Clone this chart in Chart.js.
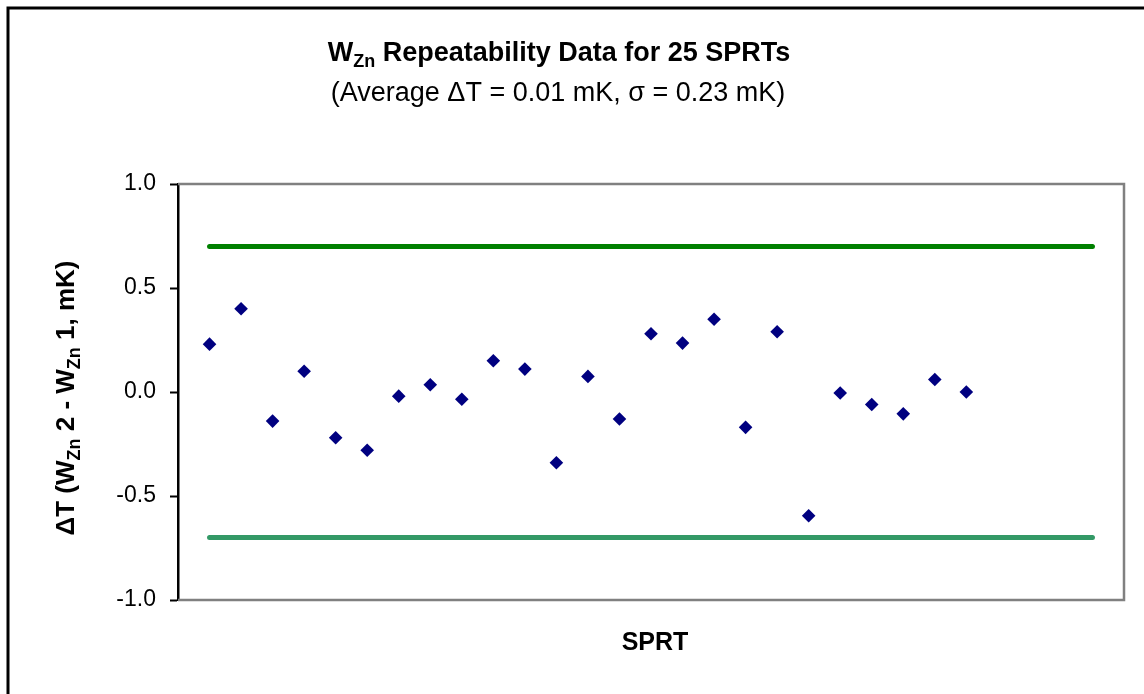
<!DOCTYPE html>
<html>
<head>
<meta charset="utf-8">
<script src="https://cdn.jsdelivr.net/npm/chart.js@4/dist/chart.umd.min.js"></script>
<style>
  html, body { margin: 0; padding: 0; background: #fff; }
  #wrap { width: 1144px; height: 694px; }
</style>
</head>
<body>
<div id="wrap"><canvas id="myCanvasSprt" width="1144" height="694"></canvas></div>
<script>
// data
var sprtNumbers = [1, 2, 3, 4, 5, 6, 7, 8, 9, 10, 11, 12, 13, 14, 15, 16, 17, 18, 19, 20, 21, 22, 23, 24, 25];
var deltaT = [0.23, 0.40, -0.14, 0.10, -0.22, -0.28, -0.02, 0.035, -0.035, 0.15, 0.11, -0.34, 0.075, -0.13,
              0.28, 0.235, 0.35, -0.17, 0.29, -0.595, -0.005, -0.06, -0.105, 0.06, 0.0];
var limitX = [1, 29];
var upperLimit = [0.7, 0.7];
var lowerLimit = [-0.7, -0.7];
var yTicks = [-1.0, -0.5, 0.0, 0.5, 1.0];

var titleParts = [['W', false], ['Zn', true], [' Repeatability Data for 25 SPRTs', false]];
var subTitle = '(Average \u0394T = 0.01 mK, \u03c3 = 0.23 mK)';
var yLabelParts = [['\u0394T (W', false], ['Zn', true], [' 2 - W', false], ['Zn', true], [' 1, mK)', false]];
var xLabel = 'SPRT';

var FONT = '"Liberation Sans", Arial, sans-serif';

var toPoints = function(xs, ys) {
    var pts = [];
    for (var i = 0; i < ys.length; i++) {
        pts.push({x: xs[i], y: ys[i]});
    }
    return pts;
};

// text with subscripts, centred on cx
var drawParts = function(ctx, parts, cx, baseline, size, weight) {
    var subSize = Math.round(size * 0.68);
    var total = 0;
    for (var i = 0; i < parts.length; i++) {
        ctx.font = weight + ' ' + (parts[i][1] ? subSize : size) + 'px ' + FONT;
        total += ctx.measureText(parts[i][0]).width;
    }
    var x = cx - total / 2;
    ctx.textAlign = 'left';
    ctx.textBaseline = 'alphabetic';
    for (var j = 0; j < parts.length; j++) {
        ctx.font = weight + ' ' + (parts[j][1] ? subSize : size) + 'px ' + FONT;
        ctx.fillText(parts[j][0], x, parts[j][1] ? baseline + size * 0.22 : baseline);
        x += ctx.measureText(parts[j][0]).width;
    }
};

var decorPlugin = {
    id: 'decor',
    beforeDraw: function(chart) {
        var ctx = chart.ctx;
        ctx.save();
        ctx.fillStyle = '#ffffff';
        ctx.fillRect(0, 0, chart.width, chart.height);
        ctx.restore();
    },
    afterDraw: function(chart) {
        var ctx = chart.ctx;
        var a = chart.chartArea;
        ctx.save();

        // grey plot frame (top, right, bottom)
        ctx.strokeStyle = '#808080';
        ctx.lineWidth = 2.5;
        ctx.beginPath();
        ctx.moveTo(a.left, a.top);
        ctx.lineTo(a.right, a.top);
        ctx.lineTo(a.right, a.bottom);
        ctx.lineTo(a.left, a.bottom);
        ctx.stroke();

        // outer black frame
        ctx.strokeStyle = '#000000';
        ctx.lineWidth = 3;
        ctx.beginPath();
        ctx.moveTo(8, chart.height + 5);
        ctx.lineTo(8, 8);
        ctx.lineTo(chart.width + 5, 8);
        ctx.stroke();

        ctx.fillStyle = '#000000';
        drawParts(ctx, titleParts, 559, 61, 27, 'bold');
        ctx.font = '27px ' + FONT;
        ctx.textAlign = 'center';
        ctx.fillText(subTitle, 558, 101);

        ctx.font = 'bold 25px ' + FONT;
        ctx.fillText(xLabel, (a.left + a.right) / 2 + 4, 650);

        ctx.translate(74, 398);
        ctx.rotate(-Math.PI / 2);
        drawParts(ctx, yLabelParts, 0, 0, 26, 'bold');
        ctx.restore();
    }
};

var context = document.getElementById('myCanvasSprt');

var grafico = new Chart(context, {
    type: 'scatter',
    data: {
        datasets: [{
            label: 'Upper limit',
            type: 'line',
            data: toPoints(limitX, upperLimit),
            borderColor: '#008000',
            borderWidth: 5,
            borderCapStyle: 'round',
            pointRadius: 0,
            fill: false
        }, {
            label: 'Lower limit',
            type: 'line',
            data: toPoints(limitX, lowerLimit),
            borderColor: '#339966',
            borderWidth: 5,
            borderCapStyle: 'round',
            pointRadius: 0,
            fill: false
        }, {
            label: 'Delta T',
            data: toPoints(sprtNumbers, deltaT),
            pointStyle: 'rectRot',
            pointRadius: 6.8,
            backgroundColor: '#000080',
            borderColor: '#000080',
            borderWidth: 0
        }]
    },
    options: {
        responsive: false,
        animation: false,
        layout: {
            padding: {left: 0, top: 184, right: 20, bottom: 94}
        },
        plugins: {
            legend: {display: false},
            tooltip: {enabled: false},
            title: {display: false}
        },
        scales: {
            x: {
                type: 'linear',
                min: 0,
                max: 30,
                display: false
            },
            y: {
                min: -1,
                max: 1,
                afterFit: function(scale) {
                    scale.width = 178;
                },
                afterBuildTicks: function(scale) {
                    scale.ticks = yTicks.map(function(v) { return {value: v}; });
                },
                border: {display: true, color: '#000000', width: 2.5},
                grid: {
                    drawOnChartArea: false,
                    drawTicks: true,
                    tickLength: 8,
                    tickColor: '#000000',
                    tickWidth: 2
                },
                ticks: {
                    color: '#000000',
                    padding: 14,
                    font: {family: FONT, size: 23},
                    callback: function(value) {
                        return value.toFixed(1);
                    }
                }
            }
        }
    },
    plugins: [decorPlugin]
});
</script>
</body>
</html>
